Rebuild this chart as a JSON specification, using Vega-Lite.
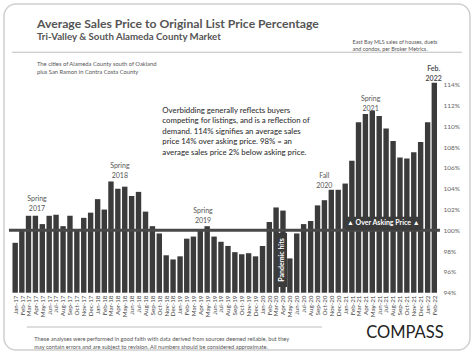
{
  "$schema": "https://vega.github.io/schema/vega-lite/v6.json",
  "width": 466,
  "height": 346,
  "autosize": {"type": "none"},
  "padding": {"left": 4, "top": 4, "right": 4, "bottom": 5},
  "background": "white",
  "config": {
    "view": {"stroke": "#cfcfcf", "strokeWidth": 1.5, "cornerRadius": 12},
    "font": "Lato",
    "text": {"font": "Lato"},
    "axis": {"labelOverlap": false}
  },
  "datasets": {
    "sales": [
      {"month": "2017-01", "pct": 98.8}, {"month": "2017-02", "pct": 100.0}, {"month": "2017-03", "pct": 101.4},
      {"month": "2017-04", "pct": 101.4}, {"month": "2017-05", "pct": 100.6}, {"month": "2017-06", "pct": 101.4},
      {"month": "2017-07", "pct": 101.5}, {"month": "2017-08", "pct": 100.4}, {"month": "2017-09", "pct": 101.4},
      {"month": "2017-10", "pct": 100.0}, {"month": "2017-11", "pct": 101.2}, {"month": "2017-12", "pct": 101.7},
      {"month": "2018-01", "pct": 103.0}, {"month": "2018-02", "pct": 102.0}, {"month": "2018-03", "pct": 104.7},
      {"month": "2018-04", "pct": 104.0}, {"month": "2018-05", "pct": 104.2}, {"month": "2018-06", "pct": 103.3},
      {"month": "2018-07", "pct": 103.7}, {"month": "2018-08", "pct": 101.8}, {"month": "2018-09", "pct": 100.4},
      {"month": "2018-10", "pct": 99.7}, {"month": "2018-11", "pct": 97.6}, {"month": "2018-12", "pct": 97.2},
      {"month": "2019-01", "pct": 97.5}, {"month": "2019-02", "pct": 99.2}, {"month": "2019-03", "pct": 99.4},
      {"month": "2019-04", "pct": 100.0}, {"month": "2019-05", "pct": 100.4}, {"month": "2019-06", "pct": 99.4},
      {"month": "2019-07", "pct": 98.9}, {"month": "2019-08", "pct": 98.5}, {"month": "2019-09", "pct": 97.9},
      {"month": "2019-10", "pct": 97.7}, {"month": "2019-11", "pct": 97.8}, {"month": "2019-12", "pct": 97.5},
      {"month": "2020-01", "pct": 98.5}, {"month": "2020-02", "pct": 100.8}, {"month": "2020-03", "pct": 102.2},
      {"month": "2020-04", "pct": 101.9}, {"month": "2020-05", "pct": 97.3}, {"month": "2020-06", "pct": 99.7},
      {"month": "2020-07", "pct": 100.6}, {"month": "2020-08", "pct": 100.9}, {"month": "2020-09", "pct": 102.4},
      {"month": "2020-10", "pct": 102.9}, {"month": "2020-11", "pct": 103.9}, {"month": "2020-12", "pct": 103.9},
      {"month": "2021-01", "pct": 104.5}, {"month": "2021-02", "pct": 106.7}, {"month": "2021-03", "pct": 110.4},
      {"month": "2021-04", "pct": 111.2}, {"month": "2021-05", "pct": 111.5}, {"month": "2021-06", "pct": 111.0},
      {"month": "2021-07", "pct": 109.8}, {"month": "2021-08", "pct": 108.6}, {"month": "2021-09", "pct": 107.0},
      {"month": "2021-10", "pct": 106.9}, {"month": "2021-11", "pct": 107.5}, {"month": "2021-12", "pct": 108.5},
      {"month": "2022-01", "pct": 110.4}, {"month": "2022-02", "pct": 114.2}
    ],
    "one": [{}]
  },
  "layer": [
    {
      "data": {"name": "sales"},
      "mark": {"type": "bar", "color": "#3b3b3b", "width": 5.4},
      "encoding": {
        "x": {
          "field": "month", "type": "temporal", "timeUnit": "yearmonth", "bandPosition": 0.5,
          "scale": {"domain": [{"year": 2016, "month": 11, "date": 28}, {"year": 2022, "month": 7, "date": 23}], "nice": false},
          "axis": {
            "orient": "bottom", "offset": -57, "title": null, "ticks": false, "domain": false, "grid": false,
            "tickCount": {"interval": "month", "step": 1},
            "labelExpr": "datum.value < datetime(2017,0,1) || datum.value > datetime(2022,1,28) ? '' : timeFormat(datum.value, '%b-%y')",
            "labelAngle": -90, "labelAlign": "right", "labelBaseline": "middle", "labelPadding": 2, "labelOffset": 3.4,
            "labelFontSize": 6.3, "labelColor": "#444", "labelOverlap": false, "labelFlush": false, "labelFont": "Lato"
          }
        },
        "y": {
          "field": "pct", "type": "quantitative",
          "scale": {"domain": [88.49, 121.77], "nice": false, "zero": false},
          "axis": {
            "orient": "right", "title": null, "ticks": false, "domain": false, "grid": false,
            "values": [94, 96, 98, 100, 102, 104, 106, 108, 110, 112, 114], "tickCount": 30,
            "labelExpr": "datum.value + '%'", "labelAlign": "left", "labelBaseline": "middle", "labelPadding": -27,
            "labelOverlap": false, "labelFlush": false,
            "labelFontSize": 6.5, "labelColor": "#666", "labelFont": "Lato"
          }
        },
        "y2": {"datum": 94}
      }
    },
    {
      "data": {"name": "one"},
      "mark": {"type": "rule", "color": "#484848", "strokeWidth": 3},
      "encoding": {
        "x": {"datum": {"year": 2016, "month": 12, "date": 20}, "type": "temporal"},
        "x2": {"datum": {"year": 2022, "month": 3, "date": 12}},
        "y": {"datum": 100, "type": "quantitative"}
      }
    },
    {
      "data": {"name": "one"},
      "mark": {"type": "rect", "color": "#3b3b3b"},
      "encoding": {
        "x": {"datum": {"year": 2021, "month": 1, "date": 20}, "type": "temporal"},
        "x2": {"datum": {"year": 2021, "month": 12, "date": 18}},
        "y": {"datum": 101.3, "type": "quantitative"},
        "y2": {"datum": 100}
      }
    },
    {
      "data": {"name": "one"},
      "mark": {"type": "text", "text": "▲ Over Asking Price ▲", "color": "white", "fontSize": 7, "fontWeight": "bold", "align": "center", "baseline": "middle"},
      "encoding": {
        "x": {"datum": {"year": 2021, "month": 7, "date": 4}, "type": "temporal"},
        "y": {"datum": 100.68, "type": "quantitative"}
      }
    },
    {
      "data": {"name": "one"},
      "mark": {"type": "rect", "color": "#3b3b3b"},
      "encoding": {
        "x": {"datum": {"year": 2020, "month": 3, "date": 23}, "type": "temporal"},
        "x2": {"datum": {"year": 2020, "month": 5, "date": 4}},
        "y": {"datum": 99.75, "type": "quantitative"},
        "y2": {"datum": 94.55}
      }
    },
    {
      "data": {"name": "one"},
      "mark": {"type": "text", "text": "Pandemic hits", "color": "white", "fontSize": 7, "fontWeight": "bold", "angle": 270, "align": "center", "baseline": "middle"},
      "encoding": {
        "x": {"datum": {"year": 2020, "month": 4, "date": 10}, "type": "temporal"},
        "y": {"datum": 97.15, "type": "quantitative"}
      }
    },
    {
      "data": {"name": "one"},
      "mark": {"type": "text", "text": ["Spring", "2017"], "color": "#555", "fontSize": 7, "lineHeight": 10, "align": "center", "baseline": "middle"},
      "encoding": {"x": {"datum": {"year": 2017, "month": 4, "date": 23}, "type": "temporal"}, "y": {"datum": 103.01, "type": "quantitative"}}
    },
    {
      "data": {"name": "one"},
      "mark": {"type": "text", "text": ["Spring", "2018"], "color": "#555", "fontSize": 7, "lineHeight": 10, "align": "center", "baseline": "middle"},
      "encoding": {"x": {"datum": {"year": 2018, "month": 4, "date": 25}, "type": "temporal"}, "y": {"datum": 106.19, "type": "quantitative"}}
    },
    {
      "data": {"name": "one"},
      "mark": {"type": "text", "text": ["Spring", "2019"], "color": "#555", "fontSize": 7, "lineHeight": 10, "align": "center", "baseline": "middle"},
      "encoding": {"x": {"datum": {"year": 2019, "month": 4, "date": 28}, "type": "temporal"}, "y": {"datum": 101.86, "type": "quantitative"}}
    },
    {
      "data": {"name": "one"},
      "mark": {"type": "text", "text": ["Fall", "2020"], "color": "#555", "fontSize": 7, "lineHeight": 10, "align": "center", "baseline": "middle"},
      "encoding": {"x": {"datum": {"year": 2020, "month": 10, "date": 16}, "type": "temporal"}, "y": {"datum": 105.24, "type": "quantitative"}}
    },
    {
      "data": {"name": "one"},
      "mark": {"type": "text", "text": ["Spring", "2021"], "color": "#555", "fontSize": 7, "lineHeight": 10, "align": "center", "baseline": "middle"},
      "encoding": {"x": {"datum": {"year": 2021, "month": 5, "date": 9}, "type": "temporal"}, "y": {"datum": 112.61, "type": "quantitative"}}
    },
    {
      "data": {"name": "one"},
      "mark": {"type": "text", "text": ["Feb.", "2022"], "color": "#444", "fontSize": 7, "fontWeight": 600, "lineHeight": 10, "align": "center", "baseline": "middle"},
      "encoding": {"x": {"datum": {"year": 2022, "month": 2, "date": 12}, "type": "temporal"}, "y": {"datum": 115.55, "type": "quantitative"}}
    },
    {
      "data": {"name": "one"},
      "mark": {"type": "text", "text": "Average Sales Price to Original List Price Percentage", "color": "#555", "fontSize": 12.2, "fontWeight": "bold", "align": "left", "baseline": "alphabetic"},
      "encoding": {"x": {"datum": {"year": 2017, "month": 4, "date": 23}, "type": "temporal"}, "y": {"datum": 119.46, "type": "quantitative"}}
    },
    {
      "data": {"name": "one"},
      "mark": {"type": "text", "text": "Tri-Valley & South Alameda County Market", "color": "#555", "fontSize": 9.7, "fontWeight": "bold", "align": "left", "baseline": "alphabetic"},
      "encoding": {"x": {"datum": {"year": 2017, "month": 4, "date": 23}, "type": "temporal"}, "y": {"datum": 118.33, "type": "quantitative"}}
    },
    {
      "data": {"name": "one"},
      "mark": {"type": "text", "text": ["East Bay MLS sales of houses, duets", "and condos, per Broker Metrics."], "color": "#555", "fontSize": 5.4, "lineHeight": 7, "align": "left", "baseline": "middle"},
      "encoding": {"x": {"datum": {"year": 2021, "month": 2, "date": 18}, "type": "temporal"}, "y": {"datum": 118.09, "type": "quantitative"}}
    },
    {
      "data": {"name": "one"},
      "mark": {"type": "rule", "color": "#bdbdbd", "strokeWidth": 1},
      "encoding": {
        "x": {"datum": {"year": 2017, "month": 1, "date": 2}, "type": "temporal"},
        "x2": {"datum": {"year": 2022, "month": 6, "date": 17}},
        "y": {"datum": 117.13, "type": "quantitative"}
      }
    },
    {
      "data": {"name": "one"},
      "mark": {"type": "text", "text": ["The cities of Alameda County south of Oakland", "plus San Ramon in Contra Costa County"], "color": "#555", "fontSize": 5.8, "lineHeight": 8.5, "align": "left", "baseline": "middle"},
      "encoding": {"x": {"datum": {"year": 2017, "month": 4, "date": 23}, "type": "temporal"}, "y": {"datum": 116.02, "type": "quantitative"}}
    },
    {
      "data": {"name": "one"},
      "mark": {"type": "text", "text": ["Overbidding generally reflects buyers", "competing for listings, and is a reflection of", "demand. 114% signifies an average sales", "price 14% over asking price. 98% = an", "average sales price 2% below asking price."], "color": "#333", "fontSize": 7.8, "fontWeight": 500, "lineHeight": 10.4, "align": "left", "baseline": "middle"},
      "encoding": {"x": {"datum": {"year": 2018, "month": 10, "date": 30}, "type": "temporal"}, "y": {"datum": 111.48, "type": "quantitative"}}
    },
    {
      "data": {"name": "one"},
      "mark": {"type": "rule", "color": "#bdbdbd", "strokeWidth": 1},
      "encoding": {
        "x": {"datum": {"year": 2017, "month": 3, "date": 9}, "type": "temporal"},
        "x2": {"datum": {"year": 2020, "month": 10, "date": 6}},
        "y": {"datum": 90.7, "type": "quantitative"}
      }
    },
    {
      "data": {"name": "one"},
      "mark": {"type": "text", "text": ["These analyses were performed in good faith with data derived from sources deemed reliable, but they", "may contain errors and are subject to revision. All numbers should be considered  approximate."], "color": "#555", "fontSize": 5.7, "lineHeight": 7.6, "align": "left", "baseline": "middle"},
      "encoding": {"x": {"datum": {"year": 2017, "month": 4, "date": 11}, "type": "temporal"}, "y": {"datum": 89.5, "type": "quantitative"}}
    },
    {
      "data": {"name": "one"},
      "mark": {"type": "text", "text": "COMPASS", "color": "#222", "fontSize": 16.5, "fontWeight": 400, "align": "center", "baseline": "middle"},
      "encoding": {"x": {"datum": {"year": 2021, "month": 10, "date": 8}, "type": "temporal"}, "y": {"datum": 90.09, "type": "quantitative"}}
    }
  ]
}
